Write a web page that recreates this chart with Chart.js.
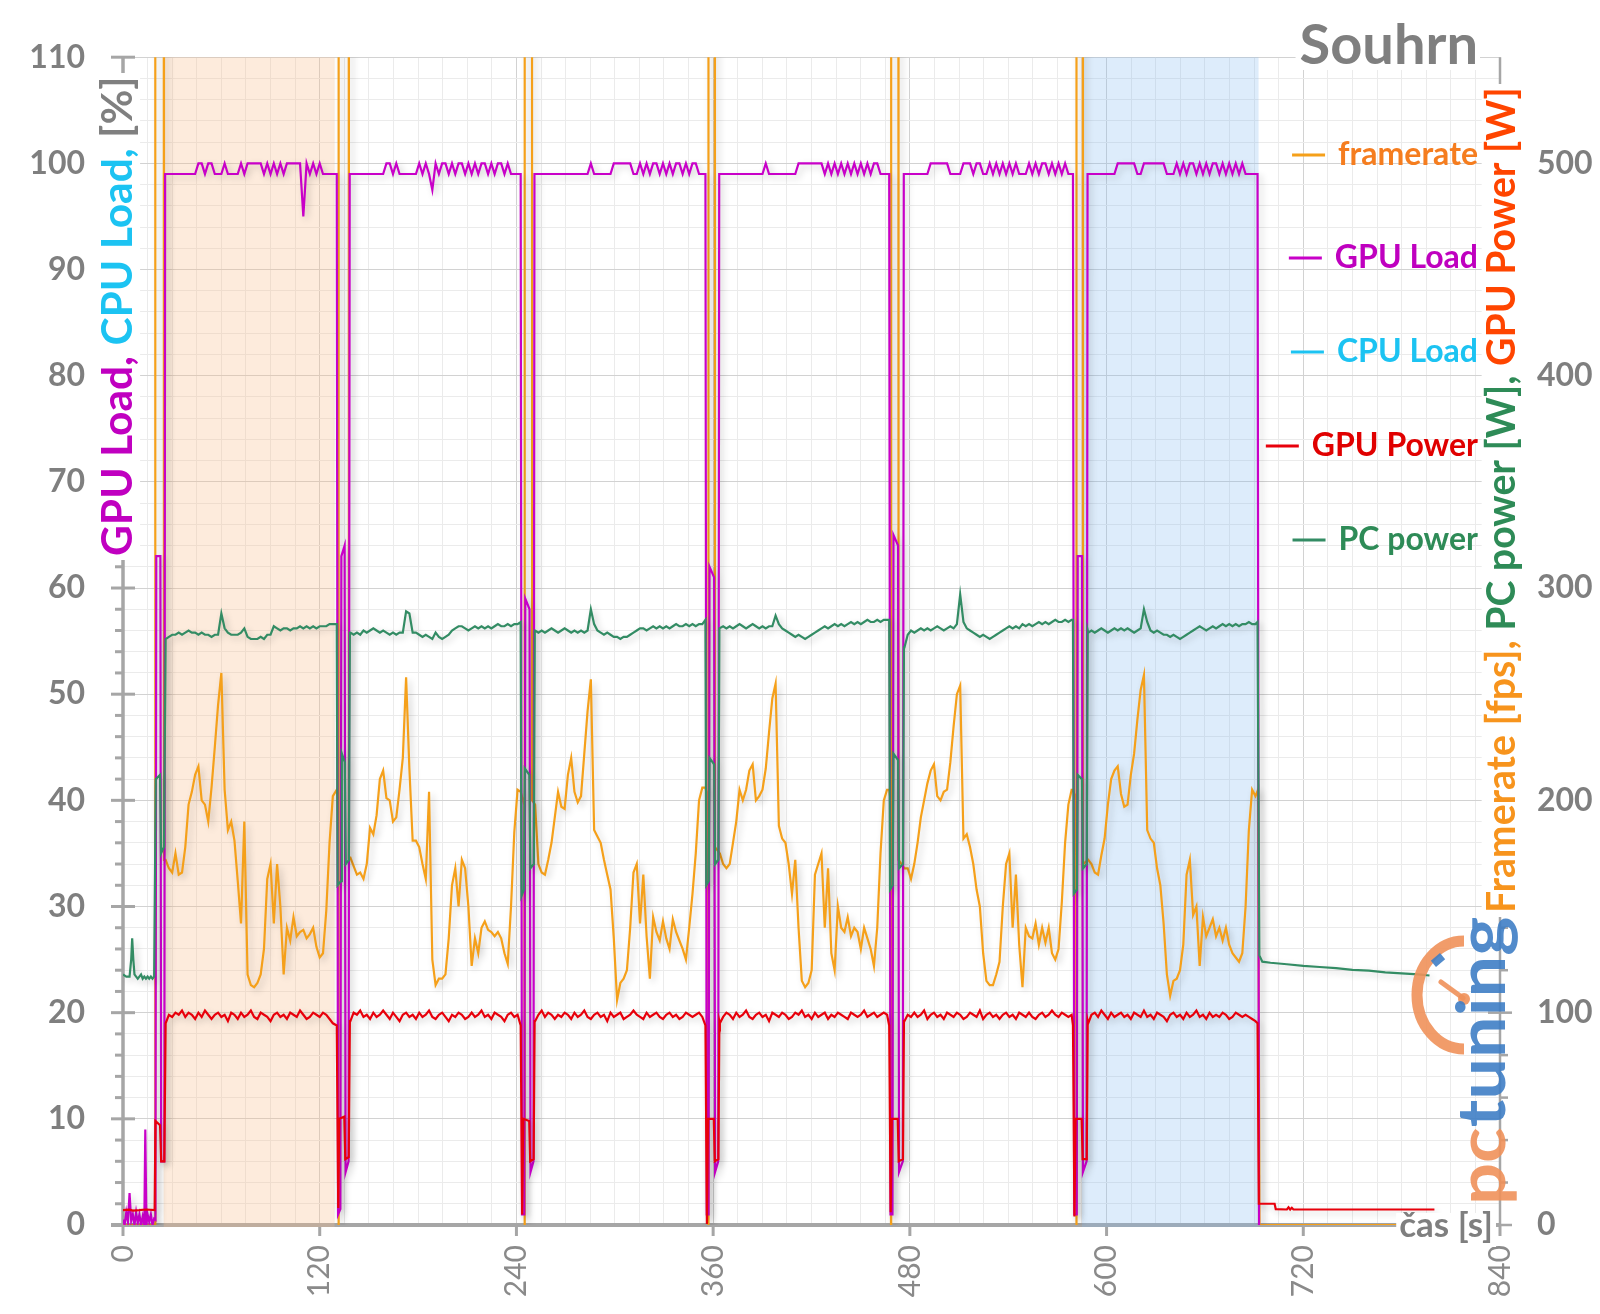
<!DOCTYPE html>
<html lang="cs">
<head>
<meta charset="UTF-8">
<title>Souhrn</title>
<script src="https://cdn.jsdelivr.net/npm/chart.js"></script>
<style>
  body { margin: 0; background: #fff; }
  #chart { display: block; width: 1600px; height: 1314px; }
</style>
</head>
<body>
<canvas id="chart" width="1600" height="1314"></canvas>
<script>
// --- data -----------------------------------------------------------------
// six benchmark runs; inside a run the log is sampled every 2 s from its start
const passStart = [26.0, 138.7, 251.4, 364.1, 476.7, 588.8];
const sampleStep = 2;

const framerateRuns = [
  [172,168,166,175,165,166,178,198,204,212, 216,200,198,190,206,225,245,260,205,186, 190,181,162,142,190,118,113,112,114,118, 130,163,170,142,170,150,118,140,134,145, 136,138,139,135,137,140,131,126,128,148, 180,202],
  [173,169,165,166,163,170,187,184,193,210, 214,201,200,190,192,205,220,258,215,181, 181,178,170,163,204,125,113,116,116,118, 135,160,168,150,172,168,150,122,135,128, 140,143,139,138,136,138,135,128,123,150, 185,205],
  [198,170,166,165,172,180,192,204,197,196, 212,220,204,199,202,222,242,257,186,183, 180,172,165,158,135,106,114,116,120,140, 166,170,142,165,136,116,145,138,134,143, 135,130,144,138,134,130,125,140,156,175, 200,206],
  [175,170,168,170,180,190,205,200,205,214, 217,200,202,205,215,232,248,255,188,182, 180,170,156,172,140,115,112,114,120,165, 170,175,140,168,128,120,150,140,138,145, 136,140,138,130,140,135,130,122,140,175, 200,205],
  [168,168,163,170,180,192,200,208,214,217, 202,200,204,205,218,235,250,254,182,184, 178,170,158,150,128,115,113,113,118,124, 150,170,175,140,165,132,112,140,136,135, 142,132,140,133,140,128,125,130,152,180, 198,205],
  [172,170,166,165,174,182,198,210,214,216, 203,197,198,212,222,238,252,259,186,182, 180,168,160,142,118,108,115,116,120,132, 165,172,146,150,122,145,136,140,144,136, 140,134,140,132,128,126,124,128,150,186, 205,202]
];

const gpuLoadRuns = [
  [99,99,99,99,99,99,99,99,99,99, 100,100,99,100,100,99,99,99,100,99, 99,99,99,100,99,100,100,100,100,100, 99,100,99,100,99,100,99,100,100,100, 100,100,95,100,99,100,99,100,99,99, 99,99],
  [99,99,99,99,99,99,99,99,99,99, 99,100,100,99,100,99,99,99,99,99, 99,100,99,100,99,97.5,100,99,100,100, 99,100,99,100,100,99,100,99,100,99, 100,100,99,100,99,100,100,99,100,99, 99,99],
  [99,99,99,99,99,99,99,99,99,99, 99,99,99,99,99,99,99,100,99,99, 99,99,99,99,100,100,100,100,100,100, 99,99,100,99,100,99,100,100,99,100, 99,100,99,100,100,99,100,99,100,100, 99,99],
  [99,99,99,99,99,99,99,99,99,99, 99,99,99,99,100,99,99,99,99,99, 99,99,99,99,100,100,100,100,100,100, 100,100,99,100,99,100,99,100,99,100, 99,100,99,100,99,100,99,100,100,99, 99,99],
  [99,99,99,99,99,99,99,99,100,100, 100,100,100,100,99,99,99,99,100,100, 100,99,100,100,99,99,100,99,100,99, 100,99,100,99,100,99,99,99,100,99, 100,99,100,100,99,100,99,100,99,100, 99,99],
  [99,99,99,99,99,99,99,99,99,100, 100,100,100,100,100,99,99,100,100,100, 100,100,100,100,99,99,99,100,99,100, 99,100,100,99,100,99,100,99,100,100, 99,100,99,100,99,100,99,100,99,99, 99,99]
];

const gpuPowerRuns = [
  [95,99,98,100,99,101,98,100,99,97, 100,98,101,99,97,99,100,98,99,96, 100,99,97,100,98,99,101,98,97,100, 99,98,96,99,100,98,99,97,100,99, 98,101,99,97,98,100,99,98,100,99, 97,95],
  [96,100,99,101,98,99,97,100,98,99, 101,99,97,100,98,96,99,100,98,99, 97,100,98,99,101,98,97,99,100,98, 96,99,98,100,99,97,98,100,98,99, 101,98,99,97,100,99,98,96,99,100, 98,99],
  [96,99,101,98,100,99,97,99,98,100, 99,97,100,98,99,101,98,97,99,100, 98,99,96,100,98,99,100,97,98,99, 101,99,98,97,100,98,99,100,98,97, 99,100,98,99,97,98,100,99,98,99, 100,98],
  [95,98,100,99,97,100,98,99,101,98, 97,99,100,98,99,96,100,99,98,100, 99,97,98,100,99,101,98,99,97,100, 98,99,100,97,99,98,100,99,98,97, 100,99,98,99,101,98,99,100,98,99, 100,99],
  [96,99,98,100,98,99,101,97,99,100, 98,99,97,100,99,98,100,99,97,98, 100,99,98,101,97,99,100,98,99,97, 99,100,98,99,97,100,99,98,100,98, 97,99,100,98,99,101,99,98,100,99, 98,99],
  [95,99,100,98,101,99,97,100,98,99, 100,98,99,97,100,99,98,101,98,99, 97,100,99,98,96,99,100,98,99,97, 100,98,99,101,98,99,97,100,98,99, 98,100,99,97,98,100,99,98,99,98, 97,96]
];

const pcPowerRuns = [
  [276,277,278,278,279,278,279,280,279,279, 278,279,278,278,277,278,278,288,281,279, 278,278,278,279,281,277,276,276,276,277, 276,278,278,282,281,280,281,281,280,281, 281,282,281,282,281,282,281,282,282,282, 283,283],
  [279,278,279,278,280,279,280,281,280,279, 280,279,278,279,278,279,279,289,288,279, 279,278,277,278,277,276,279,277,276,277, 278,280,281,282,282,281,280,281,282,281, 282,281,282,281,282,283,282,282,283,282, 283,283],
  [280,279,280,279,280,281,280,279,280,281, 280,279,280,279,280,279,280,290,283,280, 279,278,279,278,277,277,276,277,277,278, 279,280,281,281,280,281,282,281,282,281, 282,281,282,283,282,282,283,282,283,282, 283,283],
  [281,282,281,282,281,282,283,282,281,282, 283,282,281,282,281,282,282,287,283,281, 280,279,278,277,278,277,276,277,278,279, 280,281,282,281,282,283,282,283,282,283, 284,283,284,283,284,285,284,284,285,284, 285,285],
  [272,278,280,279,280,281,280,281,280,281, 282,281,280,281,282,281,283,297,284,281, 280,279,278,277,278,277,276,277,278,279, 280,281,282,281,282,281,283,282,283,282, 283,284,283,284,283,284,285,284,284,285, 284,285],
  [279,280,279,280,281,280,279,280,281,280, 281,280,281,280,279,280,281,290,284,280, 279,280,279,278,278,277,278,277,276,277, 278,279,280,281,282,281,280,281,282,281, 282,283,282,283,282,283,282,283,283,284, 283,283]
];

// idle time and loading gaps between runs: [time s, value]
const framerateGaps = [
  [0,0],[19.6,0],[19.7,1500],[24.6,1500],[25.0,172],
  [130.4,205],[131.3,200],[131.5,0],[131.6,1500],[137.5,1500],[137.8,173],
  [242.6,204],[244.8,198],[245.0,0],[245.1,1500],[249.3,1500],[249.6,200],
  [355.3,206],[356.9,200],[357.1,0],[357.2,1500],[360.8,1500],[361.1,178],
  [467.4,205],[468.3,200],[468.5,0],[468.6,1500],[472.8,1500],[473.1,172],
  [579.5,205],[581.4,200],[581.6,0],[581.7,1500],[585.3,1500],[585.6,170],
  [692.4,205],[693.3,0],[800,0]
];
const gpuLoadGaps = [
  [0,0.5],[1,0],[2,1.2],[3,0.3],[4,3],[5,0.4],[6,1],[7,0],[8,1.2],[9,0.2],[10,1],[11,0],[12,0.8],[13,0],
  [13.6,9],[14.3,0],[15,1],[16,0.3],[17,1],[18,0],[19,0.6],[19.8,0.5],[20.3,63],[22.8,63],[23.3,6],[25.2,6],[25.7,99],
  [130.4,99],[131.2,1],[132.6,1.5],[133.2,63],[135.2,64],[135.8,5],[137.6,6],[138.3,99],
  [242.6,99],[243.4,1],[244.8,1],[245.4,59],[248.0,58],[248.6,5],[250.4,6],[251.0,99],
  [355.3,99],[356.1,1],[357.2,1],[357.8,62],[360.6,61],[361.2,5],[363.1,6],[363.7,99],
  [467.4,99],[468.2,1],[469.4,1],[470.0,65],[472.8,64],[473.4,5],[475.7,6],[476.3,99],
  [579.5,99],[580.3,1],[581.8,1],[582.4,63],[585.0,63],[585.6,5],[587.8,6],[588.4,99],
  [692.1,99],[693.0,0]
];
const gpuPowerGaps = [
  [0,7],[4,7.2],[6,6.8],[10,7],[14,7.3],[19.3,7],[19.8,49],[22.6,47],[23.3,30],[25.2,30],
  [130.4,94],[131.3,8],[131.9,50],[135.0,51],[135.6,31],[137.7,32],[138.4,96],
  [242.6,94],[243.5,5],[244.2,50],[247.8,49],[248.4,30],[250.5,31],[251.1,96],
  [355.3,94],[356.2,0.5],[356.9,50],[360.4,50],[361.0,30],[363.2,31],[363.8,96],
  [467.4,94],[468.3,6],[469.0,50],[472.6,50],[473.2,30],[475.8,31],[476.4,96],
  [579.5,94],[580.4,4],[581.1,50],[584.8,50],[585.4,31],[587.9,31],[588.5,96],
  [692.1,95],[692.9,10],[702.5,10],[703.2,7.5],[710,7.3],[711,8.3],[712,7.3],[713,8.1],[714,7.3],[800,7.3]
];
const pcPowerGaps = [
  [0,118],[2,117],[4,117],[5,125],[5.6,135],[6.3,125],[7,118],[8,117],[9,116],[10,117],[11,118],[12,116],
  [13,117],[14,116],[15,117],[16,116],[17,117],[18,116],[19,117],[19.5,117],[20.0,210],[22.6,212],[23.2,175],[25.0,178],
  [130.4,283],[130.9,160],[133.0,162],[133.5,222],[135.3,218],[135.9,170],[137.8,172],[138.4,279],
  [242.6,284],[243.1,155],[244.6,158],[245.1,215],[247.9,212],[248.5,168],[250.6,170],[251.2,280],
  [355.3,285],[355.8,160],[357.3,162],[357.8,220],[360.6,217],[361.2,170],[363.2,172],[363.8,281],
  [467.4,285],[467.9,158],[469.5,160],[470.0,222],[472.8,219],[473.4,168],[475.8,170],[476.4,272],
  [579.5,285],[580.0,156],[581.9,158],[582.4,212],[585.0,210],[585.6,168],[587.9,170],[588.5,280],
  [692.1,284],[693.2,127],[695,124],[700,123.5],[710,122.8],[720,122],[730,121.5],[740,121],
  [750,120.2],[760,119.8],[770,119],[780,118.5],[790,118],[797,117.5]
];

// highlighted runs (first and last)
const bandFrom = [24.8, 585.0];
const bandTo = [129.1, 692.7];

const leftTicks = [0, 10, 20, 30, 40, 50, 60, 70, 80, 90, 100, 110];
const rightTicks = [0, 100, 200, 300, 400, 500];
const timeTicks = [0, 120, 240, 360, 480, 600, 720, 840];

// --- helpers --------------------------------------------------------------
function series(runs, gaps) {
  const pts = [];
  runs.forEach((vals, k) => {
    vals.forEach((v, i) => pts.push({ x: passStart[k] + i * sampleStep, y: v }));
  });
  gaps.forEach(p => pts.push({ x: p[0], y: p[1] }));
  return pts.sort((a, b) => a.x - b.x);
}

function seg(ctx, x0, y0, x1, y1) {
  ctx.beginPath();
  ctx.moveTo(x0, y0);
  ctx.lineTo(x1, y1);
  ctx.stroke();
}

const gray = '#7f7f7f';
const axisGray = '#a6a6a6';
const FONT = 'Lato, "Open Sans", sans-serif';

// draws text reading bottom to top, in coloured parts, fitted to a length
function verticalTitle(ctx, x, yBottom, length, parts, size) {
  ctx.save();
  ctx.font = 'bold ' + size + 'px ' + FONT;
  let w = 0;
  parts.forEach(p => { w += ctx.measureText(p.text).width; });
  const fitted = size * length / w;
  ctx.font = 'bold ' + fitted.toFixed(1) + 'px ' + FONT;
  ctx.fillStyle = '#fff';
  ctx.fillRect(x - fitted * 0.52, yBottom - length - 4, fitted * 1.04, length + 8);
  ctx.translate(x, yBottom);
  ctx.rotate(-Math.PI / 2);
  ctx.textBaseline = 'middle';
  ctx.textAlign = 'left';
  let off = 0;
  parts.forEach(p => {
    ctx.fillStyle = p.color;
    ctx.fillText(p.text, off, 0);
    off += ctx.measureText(p.text).width;
  });
  ctx.restore();
}

// --- plugins --------------------------------------------------------------
const decorations = {
  id: 'decorations',
  beforeDatasetsDraw(chart) {
    const { ctx, chartArea: a, scales } = chart;
    ctx.save();
    ctx.strokeStyle = axisGray;
    ctx.lineCap = 'butt';
    // left axis
    ctx.lineWidth = 3.5;
    seg(ctx, a.left, a.top - 1, a.left, a.bottom);
    ctx.lineWidth = 3;
    scales.y.ticks.forEach(t => {
      const y = scales.y.getPixelForValue(t.value);
      if (leftTicks.includes(t.value)) seg(ctx, a.left - 12, y, a.left + 12, y);
      else seg(ctx, a.left - 8, y, a.left, y);
    });
    // right axis
    ctx.lineWidth = 2.5;
    seg(ctx, a.right, a.top, a.right, a.bottom);
    scales.y2.ticks.forEach(t => {
      if (t.value > 540) return;
      const y = scales.y2.getPixelForValue(t.value);
      if (rightTicks.includes(t.value)) seg(ctx, a.right - 12, y, a.right + 12, y);
      else seg(ctx, a.right, y, a.right + 8, y);
    });
    // time axis
    ctx.lineWidth = 3;
    timeTicks.forEach(v => {
      const x = scales.x.getPixelForValue(v);
      seg(ctx, x, a.bottom, x, a.bottom + 11);
    });
    ctx.lineWidth = 4;
    seg(ctx, a.left - 12, a.bottom, a.right, a.bottom);
    // shaded runs
    const bandColors = ['rgba(250,190,140,0.30)', 'rgba(130,185,240,0.27)'];
    bandFrom.forEach((from, i) => {
      const x0 = scales.x.getPixelForValue(from);
      const x1 = scales.x.getPixelForValue(bandTo[i]);
      ctx.fillStyle = bandColors[i];
      ctx.fillRect(x0, a.top, x1 - x0, a.bottom + 2 - a.top);
    });
    ctx.restore();
  },
  beforeDatasetDraw(chart) {
    const c = chart.ctx;
    c.save();
    c.shadowColor = 'rgba(0,0,0,0.2)';
    c.shadowBlur = 7;
    c.shadowOffsetX = 3;
    c.shadowOffsetY = 3;
  },
  afterDatasetDraw(chart) {
    chart.ctx.restore();
  },
  afterDraw(chart) {
    const { ctx, chartArea: a } = chart;
    ctx.save();

    // axis titles
    verticalTitle(ctx, 118, 556, 479, [
      { text: 'GPU Load, ', color: '#c000c0' },
      { text: 'CPU Load, ', color: '#1cc3f2' },
      { text: '[%]', color: '#808080' }
    ], 42);
    verticalTitle(ctx, 1502, 913, 825, [
      { text: 'Framerate [fps], ', color: '#f7941d' },
      { text: 'PC power [W], ', color: '#2e8b57' },
      { text: 'GPU Power [W]', color: '#ff4500' }
    ], 38);

    // chart title
    ctx.font = 'bold 56px ' + FONT;
    const tw = ctx.measureText('Souhrn').width;
    ctx.fillStyle = '#fff';
    ctx.fillRect(1478 - tw - 4, 16, tw + 6, 54);
    ctx.fillStyle = gray;
    ctx.textAlign = 'right';
    ctx.textBaseline = 'alphabetic';
    ctx.fillText('Souhrn', 1478, 64);

    // legend
    const legendY = [155, 258, 352, 446, 540];
    ctx.font = 'bold 32px ' + FONT;
    ctx.textBaseline = 'middle';
    chart.data.datasets.forEach((ds, i) => {
      const w = ctx.measureText(ds.label).width;
      const left = 1478 - w;
      ctx.fillStyle = ds.legendColor;
      ctx.fillText(ds.label, 1478, legendY[i]);
      ctx.strokeStyle = ds.borderColor;
      ctx.lineWidth = 3;
      seg(ctx, left - 46, legendY[i], left - 13, legendY[i]);
    });

    // time axis title
    ctx.font = 'bold 35px ' + FONT;
    const cw = ctx.measureText('čas [s]').width;
    ctx.fillStyle = '#fff';
    ctx.fillRect(1493 - cw - 3, a.bottom - 12, cw + 6, 34);
    ctx.fillStyle = gray;
    ctx.textBaseline = 'alphabetic';
    ctx.fillText('čas [s]', 1493, 1237);

    // pctuning watermark
    ctx.globalAlpha = 0.9;
    ctx.strokeStyle = '#f0915a';
    ctx.lineWidth = 11;
    ctx.beginPath();
    ctx.ellipse(1464, 995, 47, 54, 0, -Math.PI / 2, Math.PI / 2, true);
    ctx.stroke();
    ctx.lineWidth = 5;
    ctx.lineCap = 'round';
    seg(ctx, 1441, 982, 1463, 998);
    ctx.fillStyle = '#f0915a';
    ctx.beginPath();
    ctx.arc(1464, 999, 6, 0, Math.PI * 2);
    ctx.fill();
    ctx.save();
    ctx.translate(1438, 960);
    ctx.rotate(-0.7);
    ctx.fillStyle = '#3f7ec5';
    ctx.fillRect(-6, -4, 12, 8);
    ctx.restore();
    ctx.translate(1505, 1205);
    ctx.rotate(-Math.PI / 2);
    ctx.scale(1, 0.9);
    ctx.font = 'bold 74px ' + FONT;
    ctx.textAlign = 'left';
    ctx.textBaseline = 'alphabetic';
    ctx.fillStyle = '#f0915a';
    ctx.fillText('pc', 0, 0);
    const pw = ctx.measureText('pc').width;
    ctx.fillStyle = '#3f7ec5';
    ctx.fillText('tuning', pw, 0);
    ctx.restore();
  }
};

// --- chart ----------------------------------------------------------------
const lineStyle = { pointRadius: 0, borderWidth: 2.2, tension: 0, fill: false };

new Chart(document.getElementById('chart'), {
  type: 'line',
  data: {
    datasets: [
      Object.assign({ label: 'framerate', data: series(framerateRuns, framerateGaps), borderColor: '#f5a01a', legendColor: '#f57d1f', yAxisID: 'y2', order: 5 }, lineStyle),
      Object.assign({ label: 'GPU Load', data: series(gpuLoadRuns, gpuLoadGaps), borderColor: '#c800c8', legendColor: '#bf00bf', yAxisID: 'y', order: 3 }, lineStyle),
      Object.assign({ label: 'CPU Load', data: [], borderColor: '#1cc3f2', legendColor: '#1cc3f2', yAxisID: 'y', order: 4 }, lineStyle),
      Object.assign({ label: 'GPU Power', data: series(gpuPowerRuns, gpuPowerGaps), borderColor: '#e8000b', legendColor: '#e00000', yAxisID: 'y2', order: 2 }, lineStyle),
      Object.assign({ label: 'PC power', data: series(pcPowerRuns, pcPowerGaps), borderColor: '#338c64', legendColor: '#2e8b57', yAxisID: 'y2', order: 1 }, lineStyle)
    ]
  },
  options: {
    responsive: false,
    animation: false,
    devicePixelRatio: 1,
    layout: { padding: { top: 53, left: 0, right: 0, bottom: 0 } },
    plugins: { legend: { display: false }, tooltip: { enabled: false } },
    scales: {
      x: {
        type: 'linear', min: 0, max: 840,
        ticks: {
          stepSize: 15, autoSkip: false, maxRotation: 90, minRotation: 90, padding: 20,
          color: '#8a8a8a', font: { family: FONT, size: 30 },
          callback: v => timeTicks.includes(v) ? String(v) : ''
        },
        grid: {
          drawTicks: false, lineWidth: 1,
          color: c => (c.tick && timeTicks.includes(c.tick.value)) ? '#d2d2d2' : '#ebebeb'
        },
        border: { display: false },
        afterFit: s => { s.height = 89; }
      },
      y: {
        position: 'left', min: 0, max: 110,
        ticks: {
          stepSize: 2, autoSkip: false, padding: 38,
          color: gray, font: { family: FONT, size: 32, weight: 'bold' },
          callback: v => leftTicks.includes(v) ? String(v) : ''
        },
        grid: {
          drawTicks: false, lineWidth: 1,
          color: c => (c.tick && leftTicks.includes(c.tick.value)) ? '#d2d2d2' : '#ebebeb'
        },
        border: { display: false },
        afterFit: s => { s.width = 123; }
      },
      y2: {
        position: 'right', min: 0, max: 550,
        ticks: {
          stepSize: 20, autoSkip: false, padding: 37,
          color: gray, font: { family: FONT, size: 32, weight: 'bold' },
          callback: v => rightTicks.includes(v) ? String(v) : ''
        },
        grid: { display: false, drawTicks: false },
        border: { display: false },
        afterFit: s => { s.width = 100; }
      }
    }
  },
  plugins: [decorations]
});
</script>
</body>
</html>
